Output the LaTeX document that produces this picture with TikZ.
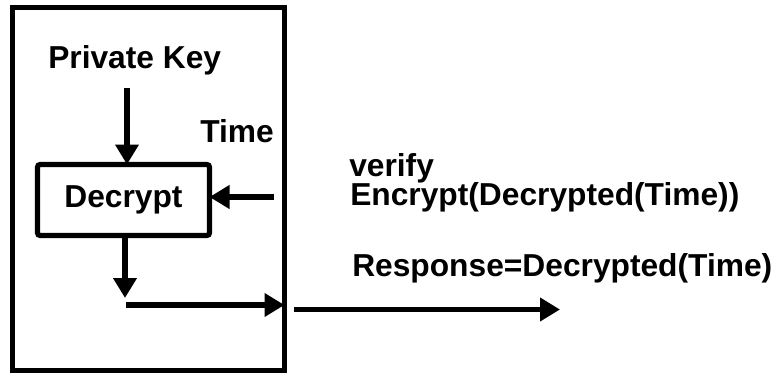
\documentclass[tikz,border=0pt]{standalone}
\usepackage{fontspec}
\setmainfont{Liberation Sans}
\usetikzlibrary{arrows.meta}
\begin{document}
\begin{tikzpicture}[x=0.75pt,y=-0.75pt,
  lbl/.style={font=\bfseries\fontsize{23.8}{28}\selectfont, inner sep=0pt, anchor=base west},
  wire/.style={line width=3.9pt, -{Triangle[length=15pt,width=17pt]}},
  frame/.style={draw, line width=3.9pt, inner sep=0pt, outer sep=0pt}]
\useasboundingbox (0,0) rectangle (778,375);

% enclosing device and the decryption block
\node[frame, minimum width=204pt, minimum height=272.25pt] (device) at (148.5,189) {};
\node[frame, rounded corners=2pt, minimum width=129pt, minimum height=53.25pt,
      font=\bfseries\fontsize{23.8}{28}\selectfont] (dec) at (123.5,200) {Decrypt};

% labels
\node[lbl] (key) at (48,68) {Private Key};
\node[lbl] (time) at (200,142) {Time};
\node[lbl] (verify) at (349,176) {verify};
\node[lbl] (enc) at (350,205) {Encrypt(Decrypted(Time))};
\node[lbl] (resp) at (352,276) {Response=Decrypted(Time)};

% connector end points
\coordinate (k0) at (127,88);
\coordinate (t0) at (274,197);
\coordinate (d1) at (125,298);
\coordinate (h0) at (126,305);
\coordinate (o0) at (294,309.5);
\coordinate (o1) at (560,309.5);

% arrows
\draw[wire] (k0) -- (k0 |- dec.north);
\draw[wire] (t0) -- (t0 -| dec.east);
\draw[wire] (d1 |- dec.south) -- (d1);
\draw[wire] (h0) -- (h0 -| device.east);
\draw[wire] (o0) -- (o1);
\end{tikzpicture}
\end{document}
